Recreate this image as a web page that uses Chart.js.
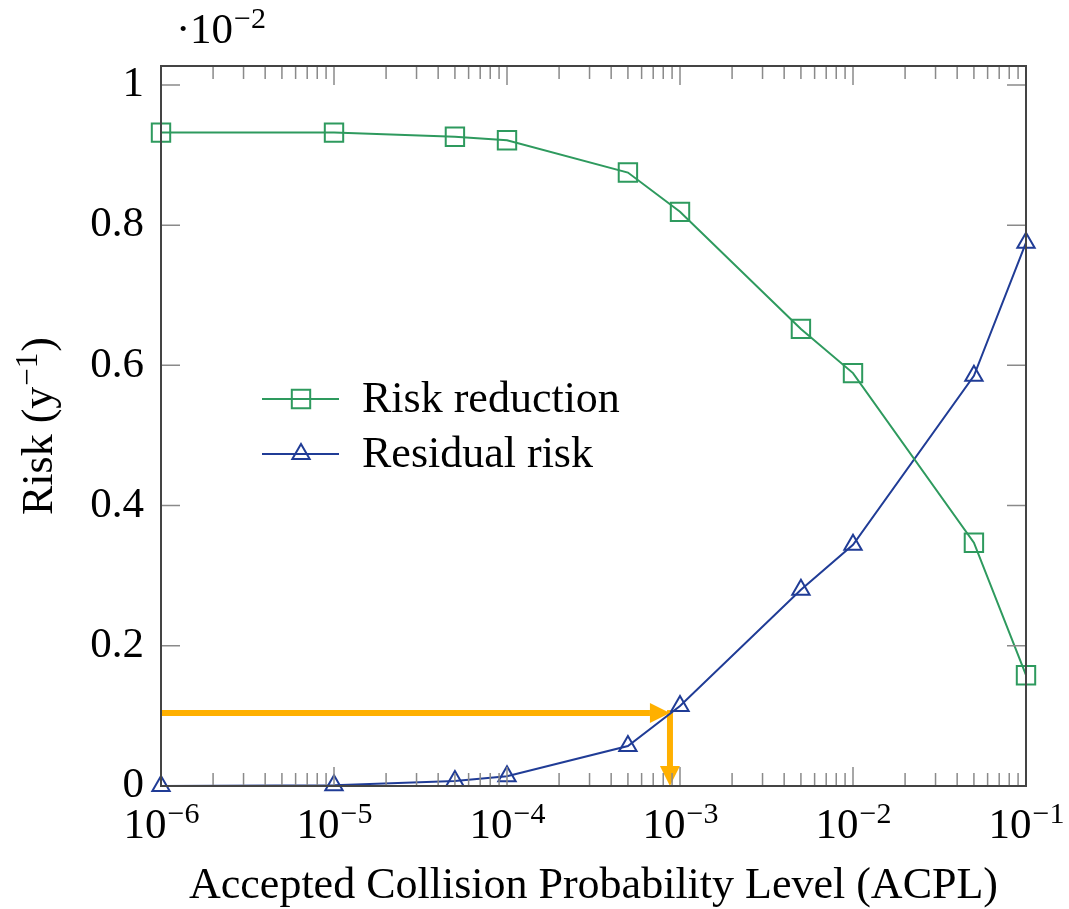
<!DOCTYPE html>
<html><head><meta charset="utf-8">
<script src="https://cdn.jsdelivr.net/npm/chart.js@4/dist/chart.umd.min.js"></script>
<style>html,body{margin:0;padding:0;background:#fff;}canvas{display:block;}</style>
</head><body>
<canvas id="c" width="1069" height="909"></canvas>
<script>
// ---- data ----
const acpl = [1e-6, 1e-5, 5e-5, 1e-4, 5e-4, 1e-3, 5e-3, 1e-2, 5e-2, 1e-1];
const riskReduction = [0.932, 0.932, 0.926, 0.921, 0.875, 0.819, 0.652, 0.589, 0.347, 0.158];
const residualRisk = [0.000, 0.001, 0.007, 0.014, 0.057, 0.114, 0.280, 0.344, 0.585, 0.775];
const seriesLabels = ['Risk reduction', 'Residual risk'];
const xTickExponents = [-6, -5, -4, -3, -2, -1];
const xMinorFactors = [2, 3, 4, 5, 6, 7, 8, 9];
const yTickValues = [0, 0.2, 0.4, 0.6, 0.8, 1];
const yTickLabels = ['0', '0.2', '0.4', '0.6', '0.8', '1'];
const arrowX = [1e-6, 8.75e-4, 8.75e-4];
const arrowY = [0.104, 0.104, 0];
const yMultiplierExp = '−2';
const xTitle = 'Accepted Collision Probability Level (ACPL)';
const yTitleBase = 'Risk (y';
const yTitleExp = '−1';
const yTitleEnd = ')';

// ---- style ----
const F = '"Liberation Serif", "Times New Roman", serif';
const GREEN = '#2e9a5e';
const BLUE = '#203c96';
const ORANGE = '#ffb000';
const FRAME = '#444444';
const TICK = '#8a8a8a';

function marker(ctx, style, x, y, r, color) {
  ctx.save();
  ctx.strokeStyle = color; ctx.lineWidth = 2;
  ctx.beginPath();
  if (style === 'rect') {
    const s = Math.SQRT1_2 * r;
    ctx.rect(x - s, y - s, 2 * s, 2 * s);
  } else {
    let a = 0;
    ctx.moveTo(x + Math.sin(a) * r, y - Math.cos(a) * r);
    a += 2 * Math.PI / 3; ctx.lineTo(x + Math.sin(a) * r, y - Math.cos(a) * r);
    a += 2 * Math.PI / 3; ctx.lineTo(x + Math.sin(a) * r, y - Math.cos(a) * r);
    ctx.closePath();
  }
  ctx.stroke();
  ctx.restore();
}

function supText(ctx, x, y, base, exp, size, align) {
  ctx.save();
  ctx.textBaseline = 'alphabetic';
  ctx.textAlign = 'left';
  const es = Math.round(size * 0.7);
  ctx.font = size + 'px ' + F;
  const wb = ctx.measureText(base).width;
  ctx.font = es + 'px ' + F;
  const we = ctx.measureText(exp).width;
  let x0 = x;
  if (align === 'center') x0 = x - (wb + we) / 2;
  ctx.font = size + 'px ' + F;
  ctx.fillText(base, x0, y);
  ctx.font = es + 'px ' + F;
  ctx.fillText(exp, x0 + wb + 1, y - size * 0.35);
  ctx.restore();
  return wb + we + 1;
}

function arrow(ctx, x1, y1, x2, y2, hl, hw) {
  const ang = Math.atan2(y2 - y1, x2 - x1);
  const bx = x2 - hl * Math.cos(ang), by = y2 - hl * Math.sin(ang);
  ctx.beginPath(); ctx.moveTo(x1, y1); ctx.lineTo(bx, by); ctx.stroke();
  ctx.beginPath();
  ctx.moveTo(x2, y2);
  ctx.lineTo(bx + hw * Math.sin(ang), by - hw * Math.cos(ang));
  ctx.lineTo(bx - hw * Math.sin(ang), by + hw * Math.cos(ang));
  ctx.closePath(); ctx.fill();
}

const deco = {
  id: 'deco',
  beforeDatasetsDraw(chart) {
    const ctx = chart.ctx, xs = chart.scales.x, ys = chart.scales.y;
    ctx.save();
    ctx.strokeStyle = ORANGE; ctx.fillStyle = ORANGE; ctx.lineWidth = 6; ctx.lineCap = 'butt';
    const p = arrowX.map((v, i) => [xs.getPixelForValue(v), ys.getPixelForValue(arrowY[i])]);
    arrow(ctx, p[0][0], p[0][1], p[1][0], p[1][1], 20, 10);
    arrow(ctx, p[1][0], p[1][1] - 3, p[2][0], p[2][1], 20, 10);
    ctx.restore();
  },
  afterDatasetsDraw(chart) {
    const ctx = chart.ctx, a = chart.chartArea, xs = chart.scales.x, ys = chart.scales.y;
    ctx.save();
    // ticks
    ctx.strokeStyle = TICK; ctx.lineWidth = 1.5;
    ctx.beginPath();
    xTickExponents.forEach((e, i) => {
      const v = Math.pow(10, e);
      const px = xs.getPixelForValue(v);
      ctx.moveTo(px, a.bottom); ctx.lineTo(px, a.bottom - 19);
      ctx.moveTo(px, a.top); ctx.lineTo(px, a.top + 19);
      if (i < xTickExponents.length - 1) {
        xMinorFactors.forEach(f => {
          const mx = xs.getPixelForValue(f * v);
          ctx.moveTo(mx, a.bottom); ctx.lineTo(mx, a.bottom - 13);
          ctx.moveTo(mx, a.top); ctx.lineTo(mx, a.top + 13);
        });
      }
    });
    yTickValues.forEach(v => {
      const py = ys.getPixelForValue(v);
      ctx.moveTo(a.left, py); ctx.lineTo(a.left + 19, py);
      ctx.moveTo(a.right, py); ctx.lineTo(a.right - 19, py);
    });
    ctx.stroke();
    // frame
    ctx.strokeStyle = FRAME; ctx.lineWidth = 2;
    ctx.strokeRect(a.left, a.top, a.right - a.left, a.bottom - a.top);
    ctx.fillStyle = '#000';
    // x tick labels
    xTickExponents.forEach(e => {
      const px = xs.getPixelForValue(Math.pow(10, e));
      supText(ctx, px, a.bottom + 52, '10', '−' + Math.abs(e), 43, 'center');
    });
    // multiplier
    ctx.font = '43px ' + F; ctx.textAlign = 'left'; ctx.textBaseline = 'alphabetic';
    ctx.fillText('·', 176, 43);
    supText(ctx, 190, 43, '10', yMultiplierExp, 43, 'left');
    // x title
    ctx.font = '44px ' + F; ctx.textAlign = 'center';
    ctx.fillText(xTitle, (a.left + a.right) / 2, 898);
    // y title (rotated)
    ctx.save();
    ctx.translate(52, 426);
    ctx.rotate(-Math.PI / 2);
    ctx.font = '44px ' + F;
    const w1 = ctx.measureText(yTitleBase).width;
    const w3 = ctx.measureText(yTitleEnd).width;
    ctx.font = '31px ' + F;
    const w2 = ctx.measureText(yTitleExp).width;
    const tot = w1 + w2 + w3 + 2;
    let x0 = -tot / 2;
    ctx.textAlign = 'left';
    ctx.font = '44px ' + F; ctx.fillText(yTitleBase, x0, 0);
    ctx.font = '31px ' + F; ctx.fillText(yTitleExp, x0 + w1 + 1, -15);
    ctx.font = '44px ' + F; ctx.fillText(yTitleEnd, x0 + w1 + w2 + 2, 0);
    ctx.restore();
    // legend
    const rows = [[399, GREEN, 'rect', 13], [454, BLUE, 'triangle', 10]];
    rows.forEach((r, i) => {
      ctx.strokeStyle = r[1]; ctx.lineWidth = 2;
      ctx.beginPath(); ctx.moveTo(262, r[0]); ctx.lineTo(339, r[0]); ctx.stroke();
      marker(ctx, r[2], 301, r[0], r[3], r[1]);
      ctx.fillStyle = '#000'; ctx.font = '44px ' + F; ctx.textAlign = 'left'; ctx.textBaseline = 'alphabetic';
      ctx.fillText(seriesLabels[i], 362, r[0] + 13);
    });
    ctx.restore();
  }
};

new Chart(document.getElementById('c').getContext('2d'), {
  type: 'line',
  data: {
    datasets: [
      {
        label: seriesLabels[0],
        data: acpl.map((x, i) => ({ x: x, y: riskReduction[i] })),
        borderColor: GREEN, borderWidth: 2, backgroundColor: 'rgba(0,0,0,0)',
        pointStyle: 'rect', pointRadius: 13, pointBorderWidth: 2,
        pointBorderColor: GREEN, pointBackgroundColor: 'rgba(0,0,0,0)',
        fill: false, tension: 0, clip: false
      },
      {
        label: seriesLabels[1],
        data: acpl.map((x, i) => ({ x: x, y: residualRisk[i] })),
        borderColor: BLUE, borderWidth: 2, backgroundColor: 'rgba(0,0,0,0)',
        pointStyle: 'triangle', pointRadius: 10, pointBorderWidth: 2,
        pointBorderColor: BLUE, pointBackgroundColor: 'rgba(0,0,0,0)',
        fill: false, tension: 0, clip: false
      }
    ]
  },
  options: {
    responsive: false, animation: false, devicePixelRatio: 1,
    layout: { padding: { top: 66, right: 43, left: 0, bottom: 0 } },
    plugins: { legend: { display: false }, tooltip: { enabled: false } },
    scales: {
      x: {
        type: 'logarithmic', min: 1e-6, max: 1e-1,
        grid: { display: false, drawTicks: false }, border: { display: false },
        ticks: { display: false },
        afterFit(s) { s.height = 123; }
      },
      y: {
        type: 'linear', min: 0, max: 1.027,
        grid: { display: false, drawTicks: false }, border: { display: false },
        afterBuildTicks(s) { s.ticks = yTickValues.map(v => ({ value: v })); },
        ticks: {
          font: { family: F, size: 43 }, color: '#000', padding: 17,
          autoSkip: false, maxRotation: 0,
          callback: (v, i) => yTickLabels[i]
        },
        afterFit(s) { s.width = 161; }
      }
    }
  },
  plugins: [deco]
});
</script>
</body></html>
